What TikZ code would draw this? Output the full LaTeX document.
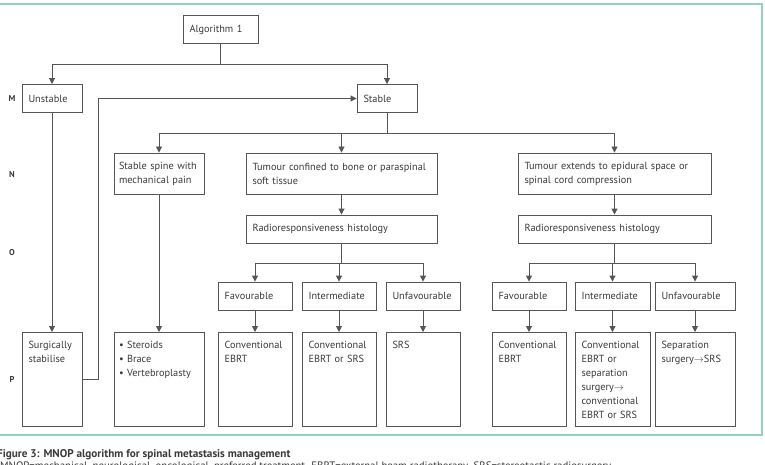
\documentclass[tikz,border=0pt]{standalone}
\usepackage{fontspec}
\setmainfont{PT Sans}
\usepackage{tikz}
\usetikzlibrary{arrows.meta}
\definecolor{linecol}{HTML}{555555}
\definecolor{txtcol}{HTML}{3A3A3A}
\definecolor{framecol}{HTML}{8FD3BA}
\tikzset{
box/.style={draw=linecol,line width=0.9pt,minimum height=28pt,inner xsep=6.5pt,inner ysep=3pt,text width=#1,align=left,text=txtcol,font=\fontsize{10.3}{14}\selectfont,execute at begin node={\hyphenpenalty=10000}},
pbox/.style={box=#1,anchor=north,text height=11pt,text depth=73pt,inner ysep=5pt},
arr/.style={draw=linecol,line width=0.9pt,-{Triangle[length=6pt,width=6pt]}},
lnk/.style={draw=linecol,line width=0.9pt},
rowlbl/.style={text=txtcol,font=\fontsize{8.5}{8.5}\selectfont\bfseries}
}
\begin{document}
\begin{tikzpicture}[x=1pt,y=-1pt]
\path[use as bounding box,fill=white] (0,0) rectangle (765,465);
\draw[framecol,line width=1.4pt] (-5,4) -| (762,435) -- (-5,435);
\node[rowlbl] (lm) at (12,99) {M};
\node[rowlbl] (ln) at (12,175) {N};
\node[rowlbl] (lo) at (12,253) {O};
\node[rowlbl] (lp) at (12,379) {P};
\node[box=62pt] (alg) at (220.5,29.5) {Algorithm 1};
\node[box=47pt] (unst) at (52,98.5) {Unstable};
\node[box=47pt] (stab) at (387,98.5) {Stable};
\node[box=80pt,inner xsep=5pt,minimum height=41pt] (spine) at (159,173.5) {Stable~spine~with\\mechanical pain};
\node[box=178pt,minimum height=41pt] (conf) at (341.5,173.5) {Tumour confined to bone or paraspinal\\soft tissue};
\node[box=180pt,minimum height=41pt] (ext) at (614.5,173.5) {Tumour extends to epidural space or\\spinal cord compression};
\node[box=178pt] (rad1) at (341.5,229) {Radioresponsiveness histology};
\node[box=180pt] (rad2) at (614.5,229) {Radioresponsiveness histology};
\node[box=61pt] (fav1) at (255,296) {Favourable};
\node[box=61pt] (int1) at (339,296) {Intermediate};
\node[box=61pt] (unf1) at (423,296) {Unfavourable};
\node[box=61pt] (fav2) at (529,296) {Favourable};
\node[box=62pt] (int2) at (612.5,296) {Intermediate};
\node[box=67pt] (unf2) at (695,296) {Unfavourable};
\node[pbox=47pt] (surg) at (52,332) {Surgically\\stabilise};
\node[pbox=80pt,inner xsep=5pt] (ster) at (159,332) {•~Steroids\\•~Brace\\•~Vertebroplasty};
\node[pbox=61pt] (tr1) at (255,332) {Conventional\\EBRT};
\node[pbox=61pt] (tr2) at (339,332) {Conventional\\EBRT or SRS};
\node[pbox=61pt] (tr3) at (423,332) {SRS};
\node[pbox=61pt] (tr4) at (529,332) {Conventional\\EBRT};
\node[pbox=62pt] (tr5) at (612.5,332) {Conventional\\EBRT or\\separation\\surgery$\to$\\conventional\\EBRT or SRS};
\node[pbox=67pt] (tr6) at (695,332) {Separation\\surgery$\to$SRS};
\coordinate (m) at (220.5,64);
\coordinate (n) at (387,133);
\coordinate (o1) at (341.5,263);
\coordinate (o2) at (614.5,263);
\draw[lnk] (alg) -- (m);
\draw[arr] (m) -| (unst);
\draw[arr] (m) -| (stab);
\draw[arr] (unst) -- (surg);
\draw[arr] (surg.east) -- ++(16,0) |- (stab);
\draw[lnk] (stab) -- (n);
\draw[arr] (n) -| (spine);
\draw[arr] (n) -| (conf);
\draw[arr] (n) -| (ext);
\draw[arr] (spine) -- (ster);
\draw[arr] (conf) -- (rad1);
\draw[arr] (ext) -- (rad2);
\draw[lnk] (rad1) -- (o1);
\draw[arr] (o1) -| (fav1);
\draw[arr] (o1) -| (int1);
\draw[arr] (o1) -| (unf1);
\draw[lnk] (rad2) -- (o2);
\draw[arr] (o2) -| (fav2);
\draw[arr] (o2) -| (int2);
\draw[arr] (o2) -| (unf2);
\draw[arr] (fav1) -- (tr1);
\draw[arr] (int1) -- (tr2);
\draw[arr] (unf1) -- (tr3);
\draw[arr] (fav2) -- (tr4);
\draw[arr] (int2) -- (tr5);
\draw[arr] (unf2) -- (tr6);
\node[anchor=base west,inner sep=0,text=txtcol,font=\fontsize{11.2}{13}\selectfont\bfseries] (cap) at (-3,457) {Figure 3: MNOP algorithm for spinal metastasis management};
\node[anchor=base west,inner sep=0,text=txtcol,font=\fontsize{10.8}{12}\selectfont] (note) at (0,469) {MNOP=mechanical, neurological, oncological, preferred treatment. EBRT=external beam radiotherapy. SRS=stereotactic radiosurgery.};
\end{tikzpicture}
\end{document}
